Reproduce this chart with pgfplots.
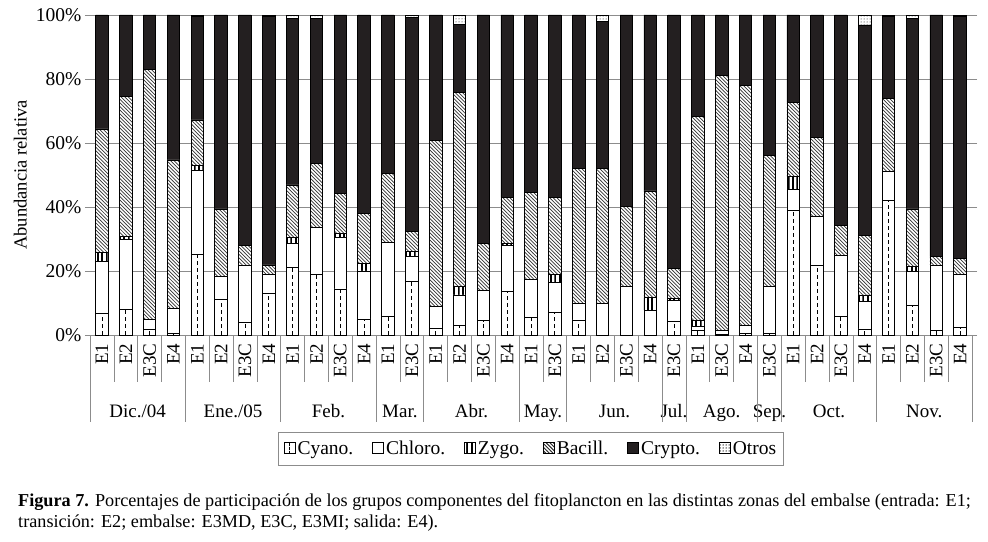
\documentclass[border=0pt]{standalone}
\usepackage{fontspec}
\setmainfont{Liberation Serif}
\usepackage{pgfplots}
\usepackage{pgfplotstable}
\pgfplotsset{compat=1.18}
\usetikzlibrary{patterns}

\definecolor{cryptoblack}{HTML}{231F20}
\definecolor{sepgray}{HTML}{8C8C8C}

% hatch patterns of the groups
\pgfdeclarepatternformonly{bacillhatch}{\pgfqpoint{-1pt}{-1pt}}{\pgfqpoint{4.6pt}{4.6pt}}{\pgfqpoint{3.6pt}{3.6pt}}{%
  \pgfsetlinewidth{0.7pt}%
  \pgfpathmoveto{\pgfqpoint{0pt}{3.6pt}}\pgfpathlineto{\pgfqpoint{3.7pt}{-0.1pt}}%
  \pgfusepath{stroke}}
\pgfdeclarepatternformonly{zygostripes}{\pgfpointorigin}{\pgfqpoint{2pt}{100pt}}{\pgfqpoint{4.4pt}{100pt}}{%
  \pgfpathrectangle{\pgfpointorigin}{\pgfqpoint{1.9pt}{100pt}}%
  \pgfusepath{fill}}
\pgfdeclarepatternformonly{otrosdots}{\pgfqpoint{-1pt}{-1pt}}{\pgfqpoint{1pt}{1pt}}{\pgfqpoint{3pt}{3pt}}{%
  \pgfpathcircle{\pgfpointorigin}{0.5pt}%
  \pgfusepath{fill}}

\tikzset{monthlabel/.style={font=\fontsize{19}{20}\selectfont, anchor=base, yshift=-82pt}}

% k = bar position; values in percent (cyano, chloro, zygo, bacill, crypto, otros)
\pgfplotstableread{
k  cy   ch   zy  ba   cr   ot
0  6.8  16.1 2.9 38.6 35.6 0
1  8.1  21.8 0.8 43.8 25.5 0
2  1.6  3.3  0   78.2 16.9 0
3  0.4  8.0  0   46.3 45.3 0
4  25.3 26.1 1.5 14.3 32.3 0.5
5  11.2 7.2  0   21.0 60.6 0
6  4.0  17.9 0   6.0  72.1 0
7  12.9 5.9  0   3.1  77.6 0.5
8  21.1 7.5  1.9 16.4 52.1 1.0
9  19.0 14.6 0   20.0 45.4 1.0
10 14.4 16.1 1.2 12.5 55.8 0
11 5.0  15.0 2.3 15.7 62.0 0
12 5.7  23.2 0   21.6 49.5 0
13 16.7 7.8  1.5 6.3  66.9 0.8
14 2.1  6.8  0   52.0 39.1 0
15 2.9  9.6  2.8 60.5 21.2 3.0
16 4.5  9.4  0   14.7 71.4 0
17 13.5 14.6 0.5 14.3 57.1 0
18 5.4  12.1 0   27.1 55.4 0
19 7.1  9.4  2.5 23.9 57.1 0
20 4.7  5.2  0   42.2 47.9 0
21 0    9.9  0   42.2 45.9 2.0
22 0    15.1 0   25.0 59.9 0
23 0    7.8  3.9 33.3 55.0 0
24 4.4  6.5  0.6 9.3  79.2 0
25 1.3  1.5  1.7 63.9 31.6 0
26 0.3  1.0  0   79.9 18.8 0
27 0.4  2.5  0   75.2 21.9 0
28 0.4  14.7 0   41.1 43.8 0
29 38.8 6.8  3.9 23.1 27.4 0
30 21.7 15.3 0   24.7 38.3 0
31 5.7  19.1 0   9.4  65.8 0
32 1.9  8.7  1.9 18.5 65.9 3.1
33 42.0 9.0  0   23.0 25.5 0.5
34 9.1  10.7 1.6 18.0 59.6 1.0
35 1.3  20.6 0   2.6  75.5 0
36 2.3  16.7 0   5.0  75.5 0.5
}\data

\begin{document}
\begin{tikzpicture}
\path[use as bounding box] (0,0) rectangle (988pt,541pt);

\begin{axis}[
    at={(90pt,206pt)}, anchor=south west,
    scale only axis, width=882pt, height=320pt,
    clip=false,
    ybar stacked, bar width=12.5pt,
    xmin=-0.5, xmax=36.5, ymin=0, ymax=100,
    enlargelimits=false,
    axis line style={draw=none},
    ymajorgrids, grid style={color=sepgray, line width=0.6pt},
    ytick={0,20,...,100},
    yticklabels={0\%,20\%,40\%,60\%,80\%,100\%},
    tick align=outside, major tick length=5pt,
    ytick style={color=sepgray, line width=0.6pt},
    xtick={0,...,36},
    xtick style={draw=none},
    xticklabels={E1,E2,E3C,E4,E1,E2,E3C,E4,E1,E2,E3C,E4,E1,E3C,E1,E2,E3C,E4,E1,E3C,E1,E2,E3C,E4,E3C,E1,E3C,E4,E3C,E1,E2,E3C,E4,E1,E2,E3C,E4},
    xticklabel style={rotate=90, anchor=east, font=\fontsize{19}{20}\selectfont},
    yticklabel style={font=\fontsize{19.5}{20}\selectfont},
    ylabel={Abundancia relativa},
    ylabel style={at={(axis description cs:-0.079,0.5)}, anchor=center, font=\fontsize{18.5}{20}\selectfont},
    every axis plot/.append style={draw=black, line width=0.8pt},
    legend columns=6,
    legend style={at={(axis description cs:0.5,-0.303)}, anchor=north,
        draw=sepgray, line width=0.6pt, font=\fontsize{19.5}{22}\selectfont,
        inner xsep=5pt, inner ysep=7pt,
        /tikz/every even column/.append style={column sep=17pt}},
]
\addplot[fill=white,
    legend image code/.code={%
        \draw[black,fill=white,line width=0.8pt] (0pt,-5pt) rectangle (11pt,6pt);
        \draw[black,line width=0.8pt,dash pattern=on 2.5pt off 1.5pt] (5.5pt,-5pt) -- (5.5pt,6pt);}]
    table[x=k,y=cy]{\data};
\addplot[fill=white,
    legend image code/.code={\draw[black,fill=white,line width=0.8pt] (0pt,-5pt) rectangle (11pt,6pt);}]
    table[x=k,y=ch]{\data};
\addplot[fill=white, postaction={pattern=zygostripes},
    legend image code/.code={\draw[black,fill=white,line width=0.8pt,postaction={pattern=zygostripes}] (0pt,-5pt) rectangle (11pt,6pt);}]
    table[x=k,y=zy]{\data};
\addplot[fill=white, postaction={pattern=bacillhatch, pattern color=black!80},
    legend image code/.code={\draw[black,fill=white,line width=0.8pt,postaction={pattern=bacillhatch, pattern color=black!80}] (0pt,-5pt) rectangle (11pt,6pt);}]
    table[x=k,y=ba]{\data};
\addplot[fill=cryptoblack,
    legend image code/.code={\draw[black,fill=cryptoblack,line width=0.8pt] (0pt,-5pt) rectangle (11pt,6pt);}]
    table[x=k,y=cr]{\data};
\addplot[fill=white, postaction={pattern=otrosdots},
    legend image code/.code={\draw[black,fill=white,line width=0.8pt,postaction={pattern=otrosdots}] (0pt,-5pt) rectangle (11pt,6pt);}]
    table[x=k,y=ot]{\data};
\legend{Cyano.,Chloro.,Zygo.,Bacill.,Crypto.,Otros}

% separators below the axis
\pgfplotsinvokeforeach{-0.5,0.5,1.5,2.5,3.5,4.5,5.5,6.5,7.5,8.5,9.5,10.5,11.5,12.5,13.5,14.5,15.5,16.5,17.5,18.5,19.5,20.5,21.5,22.5,23.5,24.5,25.5,26.5,27.5,28.5,29.5,30.5,31.5,32.5,33.5,34.5,35.5,36.5}{
  \draw[color=sepgray, line width=0.6pt] (axis cs:#1,0) -- ++(0pt,-47pt);
}
\pgfplotsinvokeforeach{-0.5,3.5,7.5,11.5,13.5,17.5,19.5,23.5,24.5,27.5,28.5,32.5,36.5}{
  \draw[color=sepgray, line width=0.6pt] (axis cs:#1,0) -- ++(0pt,-87pt);
}
% month labels
\node[monthlabel] at (axis cs:1.5,0) {Dic./04};
\node[monthlabel] at (axis cs:5.5,0) {Ene./05};
\node[monthlabel] at (axis cs:9.5,0) {Feb.};
\node[monthlabel] at (axis cs:12.5,0) {Mar.};
\node[monthlabel] at (axis cs:15.5,0) {Abr.};
\node[monthlabel] at (axis cs:18.5,0) {May.};
\node[monthlabel] at (axis cs:21.5,0) {Jun.};
\node[monthlabel] at (axis cs:24,0) {Jul.};
\node[monthlabel] at (axis cs:26,0) {Ago.};
\node[monthlabel] at (axis cs:28,0) {Sep.};
\node[monthlabel] at (axis cs:30.5,0) {Oct.};
\node[monthlabel] at (axis cs:34.5,0) {Nov.};
\end{axis}

% dashed centre line of the Cyano segment
\begin{axis}[
    at={(90pt,206pt)}, anchor=south west,
    scale only axis, width=882pt, height=320pt,
    xmin=-0.5, xmax=36.5, ymin=0, ymax=100,
    hide axis,
]
\addplot[ycomb, no marks, black, line width=0.8pt, dash pattern=on 4pt off 3pt]
    table[x=k,y=cy]{\data};
\end{axis}

\node[anchor=north west, align=left, inner sep=0pt, font=\fontsize{18.2}{21}\selectfont]
  at (18pt,48pt)
  {\textbf{Figura 7.} Porcentajes de participación de los grupos componentes del fitoplancton en las distintas zonas del embalse (entrada: E1;\\
   transición: E2; embalse: E3MD, E3C, E3MI; salida: E4).};
\end{tikzpicture}
\end{document}
